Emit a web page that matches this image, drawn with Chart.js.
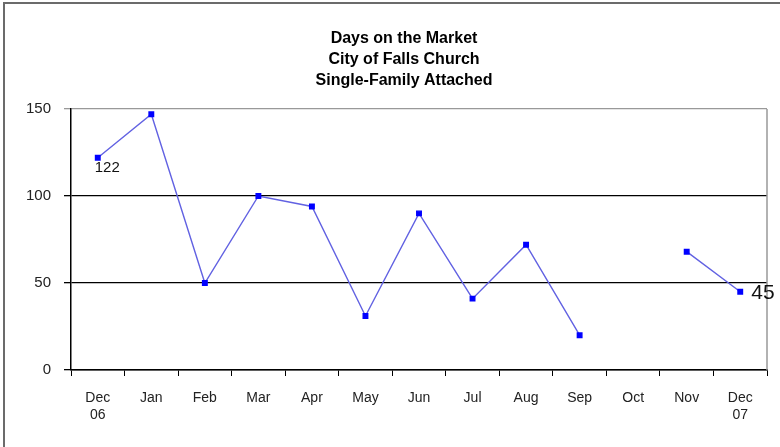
<!DOCTYPE html>
<html>
<head>
<meta charset="utf-8">
<script src="https://cdn.jsdelivr.net/npm/chart.js@4/dist/chart.umd.min.js"></script>
<style>
  html, body { margin: 0; padding: 0; background: #fff; }
  #wrap { width: 780px; height: 447px; position: relative; }
</style>
</head>
<body>
<div id="wrap"><canvas id="domChart"></canvas></div>
<script>
// months on the x axis (Dec 06 .. Dec 07)
const months = [['Dec', '06'], 'Jan', 'Feb', 'Mar', 'Apr', 'May', 'Jun', 'Jul', 'Aug', 'Sep', 'Oct', 'Nov', ['Dec', '07']];
// days on market, Oct has no value
const daysOnMarket = [122, 147, 50, 100, 94, 31, 90, 41, 72, 20, null, 68, 45];
const yTicks = [0, 50, 100, 150];
const titleLines = ['Days on the Market', 'City of Falls Church', 'Single-Family Attached'];

const tickFont = { family: '"Liberation Sans Narrow", "Liberation Sans", Arial, sans-serif', size: 14 };

// frame, title (centred a bit right of the page middle), plot border and the point labels
const framePlugin = {
  id: 'frame',
  beforeDraw(chart) {
    const c = chart.ctx;
    c.save();
    c.strokeStyle = '#6b6b6b';
    c.lineWidth = 2;
    c.beginPath();
    c.moveTo(4, 447);
    c.lineTo(4, 3);
    c.lineTo(780, 3);
    c.stroke();

    c.fillStyle = '#000';
    c.textAlign = 'center';
    c.textBaseline = 'middle';
    c.font = 'bold 16px "Liberation Sans", Arial, sans-serif';
    titleLines.forEach((t, i) => c.fillText(t, 404, 39 + i * 21));
    c.restore();
  },
  afterDatasetsDraw(chart) {
    const c = chart.ctx;
    const a = chart.chartArea;
    c.save();
    c.strokeStyle = '#999';
    c.lineWidth = 1.5;
    c.beginPath();
    c.moveTo(a.right, a.top);
    c.lineTo(a.right, a.bottom);
    c.stroke();

    const meta = chart.getDatasetMeta(0);
    const first = meta.data[0];
    const last = meta.data[daysOnMarket.length - 1];
    c.fillStyle = '#111';
    c.textBaseline = 'middle';
    c.font = '15px "Liberation Sans", Arial, sans-serif';
    c.fillText(String(daysOnMarket[0]), first.x - 3, first.y + 10);
    c.font = '21px "Liberation Sans", Arial, sans-serif';
    c.fillText(String(daysOnMarket[daysOnMarket.length - 1]), last.x + 11, last.y + 2);
    c.restore();
  }
};

new Chart(document.getElementById('domChart').getContext('2d'), {
  type: 'line',
  data: {
    labels: months,
    datasets: [{
      data: daysOnMarket,
      borderColor: '#6262e2',
      borderWidth: 1.4,
      pointStyle: 'rect',
      pointRadius: 3.2,
      pointBackgroundColor: '#0000ff',
      pointBorderColor: '#0000ff',
      spanGaps: false,
      tension: 0
    }]
  },
  options: {
    responsive: true,
    maintainAspectRatio: false,
    animation: false,
    layout: { padding: { left: 0, right: 13, top: 109, bottom: 0 } },
    plugins: {
      legend: { display: false },
      tooltip: { enabled: false },
      title: { display: false }
    },
    scales: {
      x: {
        offset: true,
        grid: {
          offset: true,
          drawOnChartArea: false,
          color: '#000',
          tickLength: 6
        },
        border: { color: '#000', width: 1.5 },
        ticks: { color: '#222', font: tickFont, maxRotation: 0, autoSkip: false, padding: 14 },
        afterFit(scale) { scale.height = 77; }
      },
      y: {
        min: 0,
        max: 150,
        afterBuildTicks(scale) { scale.ticks = yTicks.map(v => ({ value: v })); },
        grid: {
          color: ctx => (ctx.tick && ctx.tick.value === 150 ? '#999' : '#000'),
          lineWidth: 1.3,
          tickLength: 7
        },
        border: { color: '#000', width: 1.5 },
        ticks: { color: '#222', font: { family: tickFont.family, size: 15 }, padding: 13 },
        afterFit(scale) { scale.width = 71; }
      }
    }
  },
  plugins: [framePlugin]
});
</script>
</body>
</html>
